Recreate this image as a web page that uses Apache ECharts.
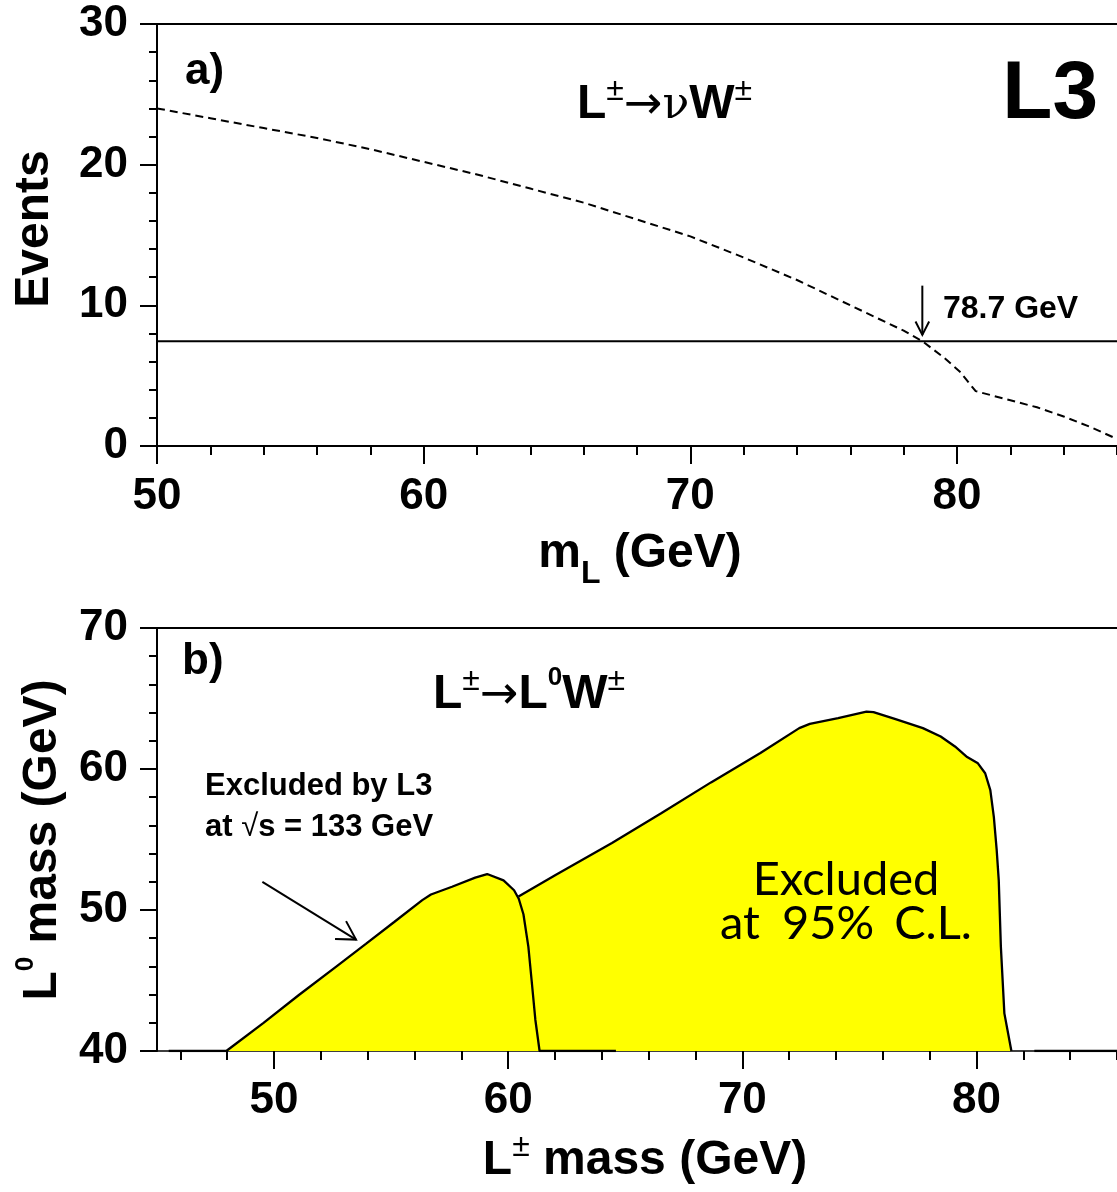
<!DOCTYPE html>
<html><head><meta charset="utf-8">
<script src="https://cdn.jsdelivr.net/npm/echarts@6/dist/echarts.min.js"></script>
<style>html,body{margin:0;padding:0;background:#fff}#c{width:1117px;height:1192px}</style>
</head><body><div id="c"></div>
<script>
// ---------- panel a) data ----------
const eventsMass     = [50,52,54,56,58,60,62,64,66,68,70,72,74,76,78,78.7,79.5,80.1,80.7,81.3,82,83,84,85,86];
const eventsExpected = [24.0,23.3,22.6,21.9,21.1,20.2,19.3,18.3,17.3,16.1,14.9,13.4,11.8,10.0,8.2,7.45,6.3,5.3,3.9,3.6,3.25,2.75,2.1,1.35,0.5];
const limitMass   = [50, 86];
const limitEvents = [7.45, 7.45];
const crossMass = 78.7;
const crossArrowEvents = [11.4, 7.9];
const topMajorX = [50,60,70,80];
const topMinorX = [52,54,56,58,62,64,66,68,72,74,76,78,82,84,86];
const topMajorY = [0,10,20,30];
const topMinorY = [2,4,6,8,12,14,16,18,22,24,26,28];

// ---------- panel b) data ----------
const region1Mass = [45.5,47.96,49.55,51.06,52.64,53.92,55.13,56.33,56.7,57.6,58.59,59.1,59.8,60.25,60.45,60.65,60.86,61.0,61.16,61.34,64.6];
const region1L0   = [40,40,42.0,43.97,45.97,47.6,49.15,50.7,51.1,51.65,52.3,52.55,52.1,51.4,50.8,49.7,47.4,45.0,42.2,40,40];
const region2Mass = [60.44,62.04,64.43,66.55,68.66,70.77,72.43,72.88,74.09,75.3,75.6,76.51,77.71,78.47,79.08,79.6,80.06,80.37,80.59,80.74,80.86,80.95,81.04,81.19,81.49];
const region2L0   = [50.95,52.5,54.75,56.88,59.05,61.13,62.9,63.2,63.6,64.07,64.04,63.55,62.9,62.3,61.6,60.85,60.4,59.7,58.5,56.6,54.3,52.1,47.4,42.67,40];
const edgeMass = [82.47, 86];
const edgeL0   = [40, 40];
const pointerFrom = [49.5, 52.0];
const pointerTo   = [53.5, 47.9];
const botMajorX = [50,60,70,80];
const botMinorX = [46,48,52,54,56,58,62,64,66,68,72,74,76,78,82,84,86];
const botMajorY = [40,50,60,70];
const botMinorY = [42,44,46,48,52,54,56,58,62,64,66,68];

const zip = (a, b) => a.map((v, i) => [v, b[i]]);
const F = 'Liberation Sans';
const BLACK = '#000';
const lblFont = {fontFamily: F, fontWeight: 'bold', fontSize: 44, color: BLACK};

function xAxes(grid, min, max, major, minor, margin, lineW) {
  return [
    {gridIndex: grid, type: 'value', min, max, position: 'bottom',
     axisLine: {show: true, onZero: false, lineStyle: {color: BLACK, width: lineW}},
     axisTick: {show: true, customValues: major, length: 18, lineStyle: {color: BLACK, width: 2}},
     axisLabel: Object.assign({show: true, customValues: major, margin}, lblFont),
     splitLine: {show: false}},
    {gridIndex: grid, type: 'value', min, max, position: 'bottom',
     axisLine: {show: false, onZero: false},
     axisTick: {show: true, customValues: minor, length: 9, lineStyle: {color: BLACK, width: 2}},
     axisLabel: {show: false}, splitLine: {show: false}},
    {gridIndex: grid, type: 'value', min, max, position: 'top',
     axisLine: {show: true, onZero: false, lineStyle: {color: BLACK, width: 2}},
     axisTick: {show: false}, axisLabel: {show: false}, splitLine: {show: false}}
  ];
}
function yAxes(grid, min, max, major, minor) {
  return [
    {gridIndex: grid, type: 'value', min, max, position: 'left',
     axisLine: {show: true, onZero: false, lineStyle: {color: BLACK, width: 2}},
     axisTick: {show: true, customValues: major, length: 17, lineStyle: {color: BLACK, width: 2}},
     axisLabel: Object.assign({show: true, customValues: major, margin: 29}, lblFont),
     splitLine: {show: false}},
    {gridIndex: grid, type: 'value', min, max, position: 'left',
     axisLine: {show: false, onZero: false},
     axisTick: {show: true, customValues: minor, length: 8, lineStyle: {color: BLACK, width: 2}},
     axisLabel: {show: false}, splitLine: {show: false}}
  ];
}

const chart = echarts.init(document.getElementById('c'), null, {renderer: 'canvas'});
chart.setOption({
  animation: false,
  backgroundColor: '#fff',
  grid: [
    {left: 157, right: -8, top: 24, height: 422},
    {left: 157, right: -10, top: 628, height: 423}
  ],
  xAxis: [].concat(xAxes(0, 50, 86, topMajorX, topMinorX, 29, 2), xAxes(1, 45, 86, botMajorX, botMinorX, 28, 1.5)),
  yAxis: [].concat(yAxes(0, 0, 30, topMajorY, topMinorY), yAxes(1, 40, 70, botMajorY, botMinorY)),
  series: [
    {type: 'line', xAxisIndex: 0, yAxisIndex: 0, data: zip(eventsMass, eventsExpected), showSymbol: false,
     lineStyle: {color: BLACK, width: 2, type: [8, 5]}, silent: true},
    {type: 'line', xAxisIndex: 0, yAxisIndex: 0, data: zip(limitMass, limitEvents), showSymbol: false,
     lineStyle: {color: BLACK, width: 2}, silent: true},
    {type: 'line', xAxisIndex: 3, yAxisIndex: 2, data: zip(region2Mass, region2L0), showSymbol: false,
     lineStyle: {color: BLACK, width: 2.3}, areaStyle: {color: '#ffff00', opacity: 1, origin: 'start'}, silent: true},
    {type: 'line', xAxisIndex: 3, yAxisIndex: 2, data: zip(region1Mass, region1L0), showSymbol: false,
     lineStyle: {color: BLACK, width: 2.3}, areaStyle: {color: '#ffff00', opacity: 1, origin: 'start'}, silent: true},
    {type: 'line', xAxisIndex: 3, yAxisIndex: 2, data: zip(edgeMass, edgeL0), showSymbol: false,
     lineStyle: {color: BLACK, width: 2.5}, silent: true}
  ]
});

function head(tip, from, len, angDeg) {
  const dx = from[0] - tip[0], dy = from[1] - tip[1];
  const L = Math.hypot(dx, dy), ux = dx / L, uy = dy / L, a = angDeg * Math.PI / 180;
  const r = s => [ux * Math.cos(s * a) - uy * Math.sin(s * a), ux * Math.sin(s * a) + uy * Math.cos(s * a)];
  const r1 = r(1), r2 = r(-1);
  return [[tip[0] + len * r1[0], tip[1] + len * r1[1]], tip, [tip[0] + len * r2[0], tip[1] + len * r2[1]]];
}
const pa = v => chart.convertToPixel({seriesIndex: 0}, v);
const pb = v => chart.convertToPixel({seriesIndex: 2}, v);
const a0 = pa([crossMass, crossArrowEvents[0]]), a1 = pa([crossMass, crossArrowEvents[1]]);
const b0 = pb(pointerFrom), b1 = pb(pointerTo);
const lineSt = {stroke: BLACK, lineWidth: 2, fill: 'none'};

// superscript layout: base tokens bottom-aligned in a 54px line, superscripts top-aligned
const supRich = {
  b:   {fontFamily: F, fontWeight: 'bold', fontSize: 48, lineHeight: 54, verticalAlign: 'bottom', fill: BLACK},
  sup: {fontFamily: F, fontWeight: 'normal', fontSize: 32, lineHeight: 32, verticalAlign: 'top', fill: BLACK},
  sup0:{fontFamily: F, fontWeight: 'bold', fontSize: 26, lineHeight: 26, verticalAlign: 'top', fill: BLACK},
  arr: {fontFamily: 'DejaVu Sans', fontWeight: 'normal', fontSize: 46, lineHeight: 46, verticalAlign: 'bottom', fill: BLACK},
  nu:  {fontFamily: 'DejaVu Serif', fontWeight: 'normal', fontSize: 44, lineHeight: 44, verticalAlign: 'bottom', fill: BLACK}
};
const subRich = {
  b:   {fontFamily: F, fontWeight: 'bold', fontSize: 48, lineHeight: 48, verticalAlign: 'top', fill: BLACK},
  sub: {fontFamily: F, fontWeight: 'bold', fontSize: 32, lineHeight: 61, verticalAlign: 'bottom', fill: BLACK}
};
const clRich = {
  t: {fontFamily: 'Lato', fontWeight: 'normal', fontSize: 47, fill: BLACK},
  p: {fontFamily: 'Lato', fontWeight: 'normal', fontSize: 47, fill: BLACK, padding: [0, 0, 0, 10]},
  q: {fontFamily: 'Lato', fontWeight: 'normal', fontSize: 47, fill: BLACK, padding: [0, 0, 0, 8]}
};
function txt(x, y, text, size, opts) {
  return Object.assign({type: 'text', x, y, z: 100, silent: true,
    style: Object.assign({text, fontFamily: F, fontWeight: 'bold', fontSize: size, fill: BLACK, align: 'left', verticalAlign: 'middle'}, (opts && opts.style) || {})},
    (opts && opts.el) || {});
}
function poly(points) {
  return {type: 'polyline', z: 100, silent: true, shape: {points}, style: lineSt};
}

chart.setOption({
  graphic: [
    // panel a) annotations
    poly([a0, a1]),
    poly(head(a1, a0, 15, 27)),
    txt(943, 309, '78.7 GeV', 32),
    txt(185, 72, 'a)', 44),
    txt(1098, 95, 'L3', 82, {style: {align: 'right'}}),
    txt(577, 102, '{b|L}{sup|±}{arr|→}{nu|ν}{b|W}{sup|±}', 48, {style: {rich: supRich}}),
    // axis titles a)
    txt(35, 229, 'Events', 48, {style: {align: 'center'}, el: {rotation: Math.PI / 2}}),
    txt(640, 560, '{b|m}{sub|L}{b| (GeV)}', 48, {style: {align: 'center', rich: subRich}}),
    // panel b) annotations
    txt(182, 662, 'b)', 44),
    txt(433, 692, '{b|L}{sup|±}{arr|→}{b|L}{sup0|0}{b|W}{sup|±}', 48, {style: {rich: supRich}}),
    txt(205, 786, 'Excluded by L3', 31),
    txt(205, 827, '{b|at }{n|√}{b|s = 133 GeV}', 31, {style: {rich: {
      b: {fontFamily: F, fontWeight: 'bold', fontSize: 31, fill: BLACK},
      n: {fontFamily: F, fontWeight: 'normal', fontSize: 31, fill: BLACK}}}}),
    poly([b0, b1]),
    poly(head(b1, b0, 21, 30)),
    txt(846, 880, 'Excluded', 47, {style: {align: 'center', fontFamily: 'Lato', fontWeight: 'normal'}}),
    txt(846, 924, '{t|at }{p|95% }{q|C.L.}', 47, {style: {align: 'center', rich: clRich}}),
    // axis titles b)
    txt(40, 840, '{b|L}{sup0|0}{b| mass (GeV)}', 48, {style: {align: 'center', rich: supRich}, el: {rotation: Math.PI / 2}}),
    txt(645, 1158, '{b|L}{sup|±}{b| mass (GeV)}', 48, {style: {align: 'center', rich: supRich}})
  ]
});
</script></body></html>
